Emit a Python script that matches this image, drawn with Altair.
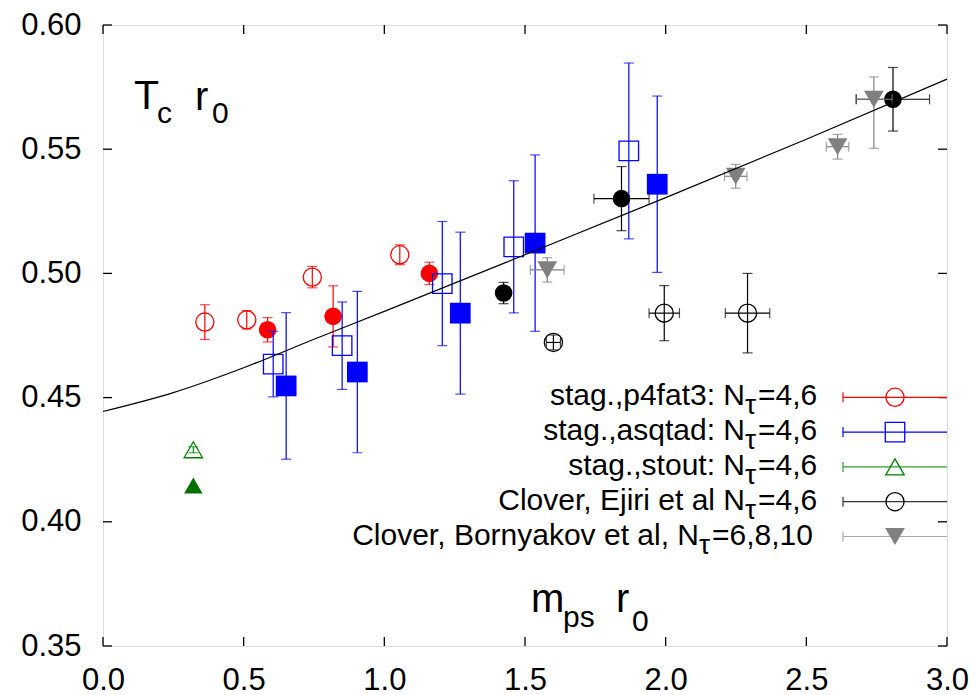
import altair as alt
import pandas as pd

# ---------------- data ----------------
# stag., p4fat3 (open = N_tau 4, filled = N_tau 6)
p4_open_x = [0.362, 0.511, 0.744, 1.055]
p4_open_y = [0.4804, 0.4813, 0.4985, 0.5075]
p4_open_err = [0.0070, 0.0037, 0.0043, 0.0040]
p4_fill_x = [0.585, 0.818, 1.160]
p4_fill_y = [0.4773, 0.4827, 0.5000]
p4_fill_err = [0.0049, 0.0123, 0.0045]

# stag., asqtad
asq_open_x = [0.605, 0.850, 1.206, 1.460, 1.869]
asq_open_y = [0.4635, 0.4709, 0.4959, 0.5107, 0.5493]
asq_open_err = [0.0132, 0.0176, 0.0250, 0.0266, 0.0354]
asq_fill_x = [0.651, 0.904, 1.270, 1.536, 1.970]
asq_fill_y = [0.4547, 0.4603, 0.4840, 0.5122, 0.5359]
asq_fill_err = [0.0295, 0.0325, 0.0326, 0.0355, 0.0355]

# stag., stout
stout_open_x = [0.321]
stout_open_y = [0.4290]
stout_open_err = [0.0012]
stout_fill_x = [0.321]
stout_fill_y = [0.4146]
stout_fill_err = [0.0]

# Clover, Ejiri et al
ej_fill_x = [1.424, 1.843, 2.808]
ej_fill_y = [0.4921, 0.5301, 0.5701]
ej_fill_xerr = [0.0, 0.098, 0.130]
ej_fill_yerr = [0.0043, 0.0129, 0.0128]
ej_open_x = [1.601, 1.995, 2.291]
ej_open_y = [0.4722, 0.4840, 0.4840]
ej_open_xerr = [0.025, 0.054, 0.079]
ej_open_yerr = [0.0030, 0.0111, 0.0160]

# Clover, Bornyakov et al
bo_x = [1.579, 2.249, 2.611, 2.740]
bo_y = [0.5014, 0.5391, 0.5510, 0.5701]
bo_xerr = [0.060, 0.040, 0.040, 0.065]
bo_ylo = [0.4965, 0.5343, 0.5460, 0.5504]
bo_yhi = [0.5063, 0.5439, 0.5560, 0.5791]

# fit curve
fit_x = [0.0, 0.25, 0.5, 0.75, 1.0, 1.5, 2.0, 2.5, 3.0]
fit_y = [0.4444, 0.4520, 0.4620, 0.4735, 0.4847, 0.5075, 0.5305, 0.5540, 0.5782]

x_ticks = [0.0, 0.5, 1.0, 1.5, 2.0, 2.5, 3.0]
y_ticks = [0.35, 0.40, 0.45, 0.50, 0.55, 0.60]

legend_labels = ["stag.,p4fat3: N", "stag.,asqtad: N", "stag.,stout: N",
                 "Clover, Ejiri et al N", "Clover, Bornyakov et al, N"]
legend_values = ["=4,6", "=4,6", "=4,6", "=4,6", "=6,8,10"]

# ---------------- styling ----------------
W, H = 844, 621
FONT = "Liberation Sans"
RED, BLUE, GREEN, BLACK, GRAY = "#ff0000", "#0000ff", "#008000", "#000000", "#808080"

xscale = alt.Scale(domain=[0, 3], nice=False, zero=False)
yscale = alt.Scale(domain=[0.35, 0.60], nice=False, zero=False)
xaxis = alt.Axis(values=x_ticks, format=".1f", title=None, ticks=False, tickSize=0,
                 domain=False, grid=False, labelFont=FONT, labelFontSize=31,
                 labelPadding=19, labelColor="black", labelFlush=False)
yaxis = alt.Axis(values=y_ticks, format=".2f", title=None, ticks=False, tickSize=0,
                 domain=False, grid=False, labelFont=FONT, labelFontSize=31,
                 labelPadding=22, labelColor="black", labelFlush=False)


def X(f="x"):
    return alt.X(f"{f}:Q", scale=xscale, axis=xaxis)


def Y(f="y"):
    return alt.Y(f"{f}:Q", scale=yscale, axis=yaxis)


one = pd.DataFrame({"a": [0]})
layers = []


def add_series(xv, yv, ylo, yhi, xerr, color, errcolor, shape, filled, size, sw=1.3):
    n = len(xv)
    if xerr is None:
        xerr = [0.0] * n
    df = pd.DataFrame({
        "x": xv, "y": yv, "ylo": ylo, "yhi": yhi,
        "xlo": [a - e for a, e in zip(xv, xerr)],
        "xhi": [a + e for a, e in zip(xv, xerr)],
    })
    dy = df[df["yhi"] > df["ylo"]]
    if len(dy):
        b = alt.Chart(dy)
        layers.append(b.mark_rule(color=errcolor, strokeWidth=1.2).encode(x=X(), y=Y("ylo"), y2="yhi"))
        layers.append(b.mark_tick(orient="horizontal", color=errcolor, size=10, thickness=1.2)
                      .encode(x=X(), y=Y("ylo")))
        layers.append(b.mark_tick(orient="horizontal", color=errcolor, size=10, thickness=1.2)
                      .encode(x=X(), y=Y("yhi")))
    dx = df[df["xhi"] > df["xlo"]]
    if len(dx):
        b = alt.Chart(dx)
        layers.append(b.mark_rule(color=errcolor, strokeWidth=1.2).encode(x=X("xlo"), x2="xhi", y=Y()))
        layers.append(b.mark_tick(orient="vertical", color=errcolor, size=10, thickness=1.2)
                      .encode(x=X("xlo"), y=Y()))
        layers.append(b.mark_tick(orient="vertical", color=errcolor, size=10, thickness=1.2)
                      .encode(x=X("xhi"), y=Y()))
    if filled:
        mk = alt.Chart(df).mark_point(shape=shape, filled=True, size=size, color=color,
                                      opacity=1, strokeWidth=0)
    else:
        mk = alt.Chart(df).mark_point(shape=shape, filled=False, size=size, color=color,
                                      opacity=1, strokeWidth=sw)
    layers.append(mk.encode(x=X(), y=Y()))


def sym(yv, err):
    return [a - e for a, e in zip(yv, err)], [a + e for a, e in zip(yv, err)]


lo, hi = sym(p4_open_y, p4_open_err)
add_series(p4_open_x, p4_open_y, lo, hi, None, RED, RED, "circle", False, 330)
lo, hi = sym(p4_fill_y, p4_fill_err)
add_series(p4_fill_x, p4_fill_y, lo, hi, None, RED, RED, "circle", True, 310)
lo, hi = sym(asq_open_y, asq_open_err)
add_series(asq_open_x, asq_open_y, lo, hi, None, BLUE, BLUE, "square", False, 380)
lo, hi = sym(asq_fill_y, asq_fill_err)
add_series(asq_fill_x, asq_fill_y, lo, hi, None, BLUE, BLUE, "square", True, 430)
lo, hi = sym(stout_open_y, stout_open_err)
add_series(stout_open_x, stout_open_y, lo, hi, None, GREEN, GREEN, "triangle-up", False, 340)
lo, hi = sym(stout_fill_y, stout_fill_err)
add_series(stout_fill_x, stout_fill_y, lo, hi, None, "#007000", GREEN, "triangle-up", True, 340)
lo, hi = sym(ej_fill_y, ej_fill_yerr)
add_series(ej_fill_x, ej_fill_y, lo, hi, ej_fill_xerr, BLACK, BLACK, "circle", True, 310)
lo, hi = sym(ej_open_y, ej_open_yerr)
add_series(ej_open_x, ej_open_y, lo, hi, ej_open_xerr, BLACK, BLACK, "circle", False, 330)
add_series(bo_x, bo_y, bo_ylo, bo_yhi, bo_xerr, GRAY, GRAY, "triangle-down", True, 390)

# fit curve
layers.append(alt.Chart(pd.DataFrame({"x": fit_x, "y": fit_y}))
              .mark_line(color="black", strokeWidth=1.2, interpolate="monotone")
              .encode(x=X(), y=Y()))

# inward tick marks on all four sides
TL = 9
xt = alt.Chart(pd.DataFrame({"x": x_ticks}))
yt = alt.Chart(pd.DataFrame({"y": y_ticks}))
layers.append(xt.mark_rule(color="black", strokeWidth=1.3).encode(x=X(), y=alt.value(H), y2=alt.value(H - TL)))
layers.append(xt.mark_rule(color="black", strokeWidth=1.3).encode(x=X(), y=alt.value(0), y2=alt.value(TL)))
layers.append(yt.mark_rule(color="black", strokeWidth=1.3).encode(y=Y(), x=alt.value(0), x2=alt.value(TL)))
layers.append(yt.mark_rule(color="black", strokeWidth=1.3).encode(y=Y(), x=alt.value(W), x2=alt.value(W - TL)))


def txt(s, x, y, size, align="left"):
    return (alt.Chart(one).mark_text(text=s, font=FONT, fontSize=size, align=align,
                                     baseline="alphabetic", color="black")
            .encode(x=alt.value(x), y=alt.value(y)))


# in-plot axis titles: T_c r_0 and m_ps r_0
layers += [txt("T", 31, 84, 41), txt("c", 54, 98, 30), txt("r", 92, 85, 40), txt("0", 109, 98, 30)]
layers += [txt("m", 428, 587, 40), txt("ps", 460, 602, 30), txt("r", 513, 587, 40), txt("0", 529, 606, 30)]

# legend
leg_colors = [RED, BLUE, "#2f9a2f", "#333333", "#aaaaaa"]
leg_mark = [(RED, "circle", False, 330), (BLUE, "square", False, 380),
            (GREEN, "triangle-up", False, 340), (BLACK, "circle", False, 330),
            (GRAY, "triangle-down", True, 390)]
for i in range(5):
    y0 = 372.3 + i * 34.8
    nend = 642 if i < 4 else 596
    layers.append(txt(legend_labels[i], nend, y0 + 8, 30, "right"))
    layers.append(txt("τ", nend, y0 + 17, 28, "left"))
    layers.append(txt(legend_values[i], nend + 13, y0 + 8, 30, "left"))
    c = leg_colors[i]
    layers.append(alt.Chart(one).mark_rule(color=c, strokeWidth=1.2)
                  .encode(x=alt.value(740), x2=alt.value(W), y=alt.value(y0)))
    layers.append(alt.Chart(one).mark_rule(color=c, strokeWidth=1.2)
                  .encode(x=alt.value(740), y=alt.value(y0 - 5), y2=alt.value(y0 + 5)))
    mc, shp, fl, sz = leg_mark[i]
    if fl:
        pm = alt.Chart(one).mark_point(shape=shp, filled=True, size=sz, color=mc, opacity=1, strokeWidth=0)
    else:
        pm = alt.Chart(one).mark_point(shape=shp, filled=False, size=sz, color=mc, opacity=1, strokeWidth=1.3)
    layers.append(pm.encode(x=alt.value(792), y=alt.value(y0)))

chart = (alt.layer(*layers)
         .properties(width=W, height=H,
                     padding={"left": 95, "top": 17, "right": 23, "bottom": 49},
                     autosize=alt.AutoSizeParams(type="none"))
         .configure_view(stroke="black", strokeWidth=1.6)
         .configure(background="white"))

chart.save("out.html", embed_options={"renderer": "svg", "actions": False})
